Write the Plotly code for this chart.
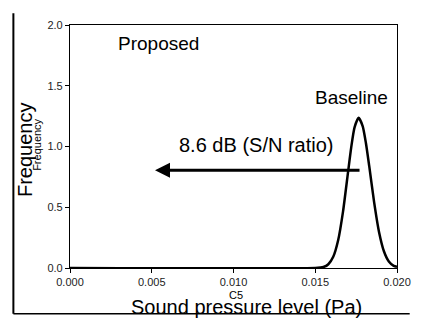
import plotly.graph_objects as go

# Data
spl_pa = [0.0000, 0.0150, 0.0155, 0.0158, 0.0161, 0.0164, 0.0167, 0.0170, 0.0172, 0.0174,
          0.01765, 0.0179, 0.0181, 0.0183, 0.0186, 0.0189, 0.0192, 0.0195, 0.0198, 0.0200]
frequency = [0.000, 0.001, 0.008, 0.031, 0.092, 0.228, 0.466, 0.783, 0.993, 1.155,
             1.236, 1.168, 1.027, 0.840, 0.542, 0.297, 0.138, 0.054, 0.018, 0.010]
x_ticks = [0.000, 0.005, 0.010, 0.015, 0.020]
x_tick_labels = ["0.000", "0.005", "0.010", "0.015", "0.020"]
y_ticks = [0.0, 0.5, 1.0, 1.5, 2.0]
y_tick_labels = ["0.0", "0.5", "1.0", "1.5", "2.0"]
arrow_from = (0.0178, 0.805)
arrow_to = (0.0052, 0.805)

FONT = "Liberation Sans, Arial, Helvetica, sans-serif"
OFF = 8  # page body margin
W, H = 422 - OFF, 320 - OFF
ML, MT = 70 - OFF, 19 - OFF
MR = W - (405 - OFF)
MB = H - (268 - OFF)
PW, PH = W - ML - MR, H - MT - MB


def px(x):
    return (x - OFF - ML) / PW


def py(y):
    return (H + OFF - MB - y) / PH


fig = go.Figure()
fig.add_trace(go.Scatter(x=spl_pa, y=frequency, mode="lines",
                         line=dict(color="black", width=2.5, shape="spline", smoothing=0.6),
                         hoverinfo="skip", showlegend=False))

axis_common = dict(showline=True, mirror=True, linecolor="black", linewidth=1.2,
                   ticks="outside", ticklen=4, tickcolor="black", tickwidth=1,
                   showgrid=False, zeroline=False,
                   tickfont=dict(family=FONT, size=11, color="#222"))
fig.update_xaxes(range=[0, 0.02], tickvals=x_ticks, ticktext=x_tick_labels, **axis_common)
fig.update_yaxes(range=[0, 2.0], tickvals=y_ticks, ticktext=y_tick_labels, **axis_common)

ann = [
    dict(text="Proposed", x=px(161), y=py(38), font_size=19),
    dict(text="Baseline", x=px(358), y=py(93), font_size=19),
    dict(text="8.6 dB (S/N ratio)", x=px(261), y=py(142), font_size=20),
    dict(text="C5", x=px(240), y=py(296), font_size=11),
    dict(text="Sound pressure level (Pa)", x=px(251), y=py(308), font_size=20),
    dict(text="Frequency", x=px(24), y=py(147), font_size=20, textangle=-90),
    dict(text="Frequency", x=px(36), y=py(142), font_size=11, textangle=-90),
]
for a in ann:
    fig.add_annotation(xref="paper", yref="paper", showarrow=False,
                       xanchor="center", yanchor="middle",
                       font=dict(family=FONT, size=a.pop("font_size"), color="black"), **a)

fig.add_annotation(x=arrow_to[0], y=arrow_to[1], ax=arrow_from[0], ay=arrow_from[1],
                   xref="x", yref="y", axref="x", ayref="y", text="",
                   showarrow=True, arrowhead=2, arrowsize=1, arrowwidth=3, arrowcolor="black")

# outer frame lines (left and bottom)
fig.add_shape(type="line", xref="paper", yref="paper", x0=px(12), x1=px(12), y0=py(7), y1=py(315),
              line=dict(color="black", width=2))
fig.add_shape(type="line", xref="paper", yref="paper", x0=px(12), x1=px(418), y0=py(315), y1=py(315),
              line=dict(color="black", width=1.5))

fig.update_layout(width=W, height=H, margin=dict(l=ML, r=MR, t=MT, b=MB),
                  paper_bgcolor="white", plot_bgcolor="white",
                  font=dict(family=FONT))
fig.write_html("out.html")
